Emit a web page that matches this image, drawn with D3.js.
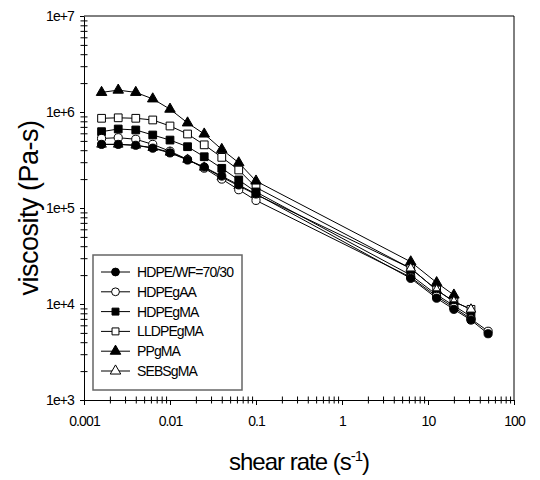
<!DOCTYPE html>
<html>
<head>
<meta charset="utf-8">
<script src="https://cdn.jsdelivr.net/npm/d3@7"></script>
<style>
  body { margin: 0; background: #fff; }
  svg { display: block; }
  text { font-family: "Liberation Sans", Arial, sans-serif; fill: #000; }
</style>
</head>
<body>
<svg id="chart" width="540" height="480"></svg>
<script>
// Shear rates (1/s) at which viscosity was measured
const shearRate = [0.0016, 0.0025, 0.004, 0.0063, 0.01, 0.016, 0.025, 0.04, 0.063, 0.1, 6.3, 12.6, 20, 31.6, 50];

// Viscosity (Pa-s) for each material; null = not measured
const hdpeWF   = [4.6e5, 4.6e5, 4.5e5, 4.2e5, 3.75e5, 3.16e5, 2.67e5, 2.15e5, 1.74e5, 1.4e5, 1.85e4, 1.15e4, 8.8e3, 6.8e3, 4.9e3];
const hdpeGAA  = [5.3e5, 5.4e5, 5.2e5, 4.6e5, 3.9e5, 3.2e5, 2.6e5, 2.0e5, 1.55e5, 1.2e5, 1.9e4, 1.2e4, 9.2e3, 7.0e3, 5.2e3];
const hdpeGMA  = [6.24e5, 6.65e5, 6.5e5, 5.76e5, 5.1e5, 4.35e5, 3.42e5, 2.59e5, 1.96e5, 1.47e5, 2.0e4, 1.25e4, 9.6e3, 7.4e3, null];
const lldpeGMA = [8.6e5, 8.7e5, 8.6e5, 8.26e5, 7.15e5, 5.9e5, 4.55e5, 3.37e5, 2.49e5, 1.64e5, 2.35e4, 1.4e4, 1.06e4, 8.8e3, null];
const ppGMA    = [1.6e6, 1.69e6, 1.6e6, 1.37e6, 1.07e6, 7.7e5, 5.9e5, 4.08e5, 2.96e5, 1.91e5, 2.75e4, 1.67e4, 1.24e4, null, null];
const sebsGMA  = [4.6e5, 4.6e5, 4.5e5, 4.25e5, 3.8e5, 3.2e5, 2.65e5, 2.1e5, 1.7e5, 1.38e5, 2.35e4, 1.4e4, 1.06e4, 8.8e3, null];

const seriesNames = ["HDPE/WF=70/30", "HDPEgAA", "HDPEgMA", "LLDPEgMA", "PPgMA", "SEBSgMA"];
const seriesValues = [hdpeWF, hdpeGAA, hdpeGMA, lldpeGMA, ppGMA, sebsGMA];

// Axis tick labels
const xTickValues = [0.001, 0.01, 0.1, 1, 10, 100];
const xTickLabels = ["0.001", "0.01", "0.1", "1", "10", "100"];
const yTickValues = [1e3, 1e4, 1e5, 1e6, 1e7];
const yTickLabels = ["1e+3", "1e+4", "1e+5", "1e+6", "1e+7"];

// Marker styles per series
const markerShapes = [d3.symbolCircle, d3.symbolCircle, d3.symbolSquare, d3.symbolSquare, d3.symbolTriangle, d3.symbolTriangle];
const markerSizes = [52, 52, 60, 60, 48, 40];
const markerFilled = [true, false, true, false, true, false];
// Paint order of the marker layers (index into the series arrays)
const drawOrder = [3, 4, 5, 2, 1, 0];

const svg = d3.select("#chart");
const plot = { left: 84, right: 514, top: 16, bottom: 400 };

const x = d3.scaleLog().domain([0.001, 100]).range([plot.left, plot.right]);
const y = d3.scaleLog().domain([1e3, 1e7]).range([plot.bottom, plot.top]);

// Minor tick values (2..9 within each decade)
function minorTicks(lo, hi) {
  const out = [];
  for (let d = lo; d < hi; d *= 10) {
    for (let k = 2; k <= 9; k++) out.push(d * k);
  }
  return out;
}
const xMinor = minorTicks(0.001, 100);
const yMinor = minorTicks(1e3, 1e7);

// Frame: top and right edges
svg.append("line").attr("x1", plot.left).attr("x2", plot.right)
  .attr("y1", plot.top).attr("y2", plot.top).attr("stroke", "#000");
svg.append("line").attr("x1", plot.right).attr("x2", plot.right)
  .attr("y1", plot.top).attr("y2", plot.bottom).attr("stroke", "#000");

// X axis: minor ticks straddle the axis line, major ticks point outward
svg.append("g")
  .attr("transform", `translate(0,${plot.bottom + 3.5})`)
  .call(d3.axisBottom(x).tickValues(xMinor).tickSizeInner(-7).tickSizeOuter(0).tickFormat(""))
  .call(g => g.select(".domain").remove());
const xAxis = svg.append("g")
  .attr("transform", `translate(0,${plot.bottom})`)
  .call(d3.axisBottom(x).tickValues(xTickValues).tickSizeInner(5).tickSizeOuter(0)
    .tickPadding(11).tickFormat((d, i) => xTickLabels[i]));
xAxis.select(".domain").attr("stroke", "#000");
xAxis.selectAll("text").attr("font-size", 14).attr("letter-spacing", -0.9)
  .attr("font-family", "Liberation Sans, Arial, sans-serif");

// Y axis
svg.append("g")
  .attr("transform", `translate(${plot.left - 3.5},0)`)
  .call(d3.axisLeft(y).tickValues(yMinor).tickSizeInner(-7).tickSizeOuter(0).tickFormat(""))
  .call(g => g.select(".domain").remove());
const yAxis = svg.append("g")
  .attr("transform", `translate(${plot.left},0)`)
  .call(d3.axisLeft(y).tickValues(yTickValues).tickSizeInner(4).tickSizeOuter(0)
    .tickPadding(6).tickFormat((d, i) => yTickLabels[i]));
yAxis.select(".domain").attr("stroke", "#000");
yAxis.selectAll("text").attr("font-size", 14).attr("letter-spacing", -0.9)
  .attr("font-family", "Liberation Sans, Arial, sans-serif");

// Axis titles
const xTitle = svg.append("text")
  .attr("x", (plot.left + plot.right) / 2).attr("y", 470)
  .attr("text-anchor", "middle").attr("font-size", 24).attr("letter-spacing", -1);
xTitle.append("tspan").text("shear rate (s");
xTitle.append("tspan").attr("font-size", 15).attr("dy", -9).text("-1");
xTitle.append("tspan").attr("dy", 9).text(")");

svg.append("text")
  .attr("transform", `translate(38,${(plot.top + plot.bottom) / 2}) rotate(-90)`)
  .attr("text-anchor", "middle").attr("font-size", 27).attr("letter-spacing", -0.5)
  .text("viscosity (Pa-s)");

// Series lines and markers
const line = d3.line()
  .defined(d => d.v != null)
  .x(d => x(d.r)).y(d => y(d.v));

seriesValues.forEach((vals) => {
  const pts = shearRate.map((r, i) => ({ r, v: vals[i] }));
  svg.append("path").datum(pts)
    .attr("d", line).attr("fill", "none").attr("stroke", "#000").attr("stroke-width", 1);
});
drawOrder.forEach((s) => {
  const vals = seriesValues[s];
  const pts = shearRate.map((r, i) => ({ r, v: vals[i] })).filter(d => d.v != null);
  svg.append("g").selectAll("path").data(pts).join("path")
    .attr("transform", d => `translate(${x(d.r)},${y(d.v)})`)
    .attr("d", d3.symbol().type(markerShapes[s]).size(markerSizes[s]))
    .attr("fill", markerFilled[s] ? "#000" : "#fff")
    .attr("stroke", "#000").attr("stroke-width", 1);
});

// Legend
const legend = svg.append("g");
legend.append("rect")
  .attr("x", 93).attr("y", 255).attr("width", 149).attr("height", 135)
  .attr("fill", "#fff").attr("stroke", "#666").attr("stroke-width", 1.5);
seriesNames.forEach((name, s) => {
  const ly = 272 + s * 19.8;
  legend.append("line").attr("x1", 101).attr("x2", 130).attr("y1", ly).attr("y2", ly)
    .attr("stroke", "#000").attr("stroke-width", 1);
  legend.append("path")
    .attr("transform", `translate(115.5,${ly})`)
    .attr("d", d3.symbol().type(markerShapes[s]).size(48))
    .attr("fill", markerFilled[s] ? "#000" : "#fff")
    .attr("stroke", "#000").attr("stroke-width", 1);
  legend.append("text").attr("x", 137).attr("y", ly + 5)
    .attr("font-size", 14).attr("letter-spacing", -0.9).text(name);
});
</script>
</body>
</html>
